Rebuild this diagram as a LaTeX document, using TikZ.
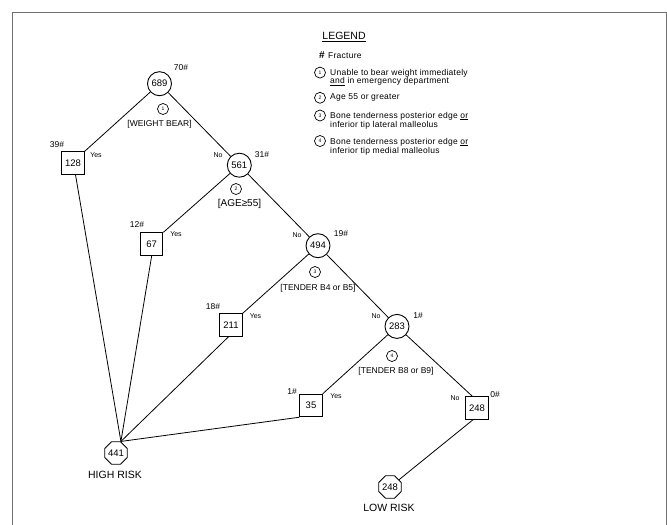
\documentclass[tikz,border=0pt]{standalone}
\usepackage{fontspec}
\setmainfont{Liberation Sans}
\newfontfamily\legfont[LetterSpace=3]{Liberation Sans}
\usetikzlibrary{shapes.geometric,calc}
\begin{document}
\begin{tikzpicture}[x=1pt,y=-1pt,
  every node/.style={inner sep=0pt},
  cnode/.style={circle,draw,line width=0.9pt,minimum size=24pt,font=\fontsize{9.5}{10}\selectfont},
  bnode/.style={rectangle,draw,line width=1pt,minimum size=22.5pt,font=\fontsize{9.5}{10}\selectfont},
  onode/.style={regular polygon,regular polygon sides=8,draw,line width=0.9pt,minimum size=24pt,font=\fontsize{9.5}{10}\selectfont},
  num/.style={font=\fontsize{8.5}{9}\selectfont},
  yn/.style={font=\fontsize{7}{8}\selectfont},
  qnum/.style={circle,draw,line width=0.7pt,minimum size=11pt,font=\fontsize{5}{5}\selectfont},
  crit/.style={font=\fontsize{8.5}{9}\selectfont},
  risk/.style={font=\fontsize{10.5}{11}\selectfont},
  edge/.style={line width=0.8pt},
  leg/.style={font=\legfont\fontsize{8.5}{8}\selectfont, align=left, anchor=west}
]
\useasboundingbox (0,0) rectangle (667,525);
\draw[black!55, line width=1pt] (12,525) -- (12,12) -- (666,12) -- (666,525);

% tree nodes
\node[cnode] (n689) at (159.5,83.7) {689};
\node[bnode] (b128) at (73,163) {128};
\node[cnode] (n561) at (239.3,165.2) {561};
\node[bnode] (b67) at (151.7,244) {67};
\node[cnode] (n494) at (318,245.7) {494};
\node[bnode] (b211) at (231,325) {211};
\node[cnode] (n283) at (397,326.4) {283};
\node[bnode] (b35) at (311,405.5) {35};
\node[bnode] (b248) at (477,408) {248};
\node[onode] (hr) at (116,453) {441};
\node[onode] (lr) at (390,487) {248};

% connectors
\coordinate (hrt) at (hr.67.5);
\coordinate (b248t) at ($(b248.north west)!0.3!(b248.north east)$);
\draw[edge] (n689) -- (b128.north east);
\draw[edge] (n689) -- (n561);
\draw[edge] (n561) -- (b67.north east);
\draw[edge] (n561) -- (n494);
\draw[edge] (n494) -- (b211.north east);
\draw[edge] (n494) -- (n283);
\draw[edge] (n283) -- (b35.north east);
\draw[edge] (n283) -- (b248t);
\draw[edge] ($(b128.south)+(2.5,0)$) -- (hrt);
\draw[edge] (b67.south) -- (hrt);
\draw[edge] ($(b211.south)+(-2.5,0)$) -- (hrt);
\draw[edge] (b35.south west) -- (hrt);
\draw[edge] ($(b248.south)+(-4,0)$) -- (lr);

% labels
\node[num] (l70) at (181,68) {70\#};
\node[num] (l39) at (57,145) {39\#};
\node[yn] (y1) at (96,154.7) {Yes};
\node[yn] (no1) at (218,155) {No};
\node[num] (l31) at (262,155) {31\#};
\node[qnum] (q1) at (163,109) {1};
\node[crit] (c1) at (159.5,124) {[WEIGHT BEAR]};
\node[qnum] (q2) at (236,189) {2};
\node[font=\fontsize{10}{11}\selectfont] (c2) at (239.5,204) {[AGE≥55]};
\node[num] (l12) at (137,225) {12\#};
\node[yn] (y2) at (176,234) {Yes};
\node[yn] (no2) at (297,235) {No};
\node[num] (l19) at (341,234) {19\#};
\node[qnum] (q3) at (315,272) {3};
\node[crit] (c3) at (318,288.6) {[TENDER B4 or B5]};
\node[num] (l18) at (213,307) {18\#};
\node[yn] (y3) at (255.5,315.7) {Yes};
\node[yn] (no3) at (376,316) {No};
\node[num] (l1a) at (418,316) {1\#};
\node[qnum] (q4) at (392,356) {4};
\node[crit] (c4) at (396,371) {[TENDER B8 or B9]};
\node[num] (l1b) at (292,392) {1\#};
\node[yn] (y4) at (336,396) {Yes};
\node[yn] (no4) at (455,398) {No};
\node[num] (l0) at (495,395) {0\#};
\node[risk] (thr) at (115,474.7) {HIGH RISK};
\node[risk] (tlr) at (389,508) {LOW RISK};

% legend
\node[font=\fontsize{10.5}{11}\selectfont] (legT) at (344,37) {\underline{LEGEND}};
\node[font=\fontsize{10}{10}\selectfont\bfseries] (legH) at (322,55) {\#};
\node[leg] (legF) at (328,55.5) {Fracture};
\node[qnum] (lq1) at (320,72.6) {1};
\node[leg] (lt1) at (330,77.5) {Unable to bear weight immediately\\\underline{and} in emergency department};
\node[qnum] (lq2) at (320,97.8) {2};
\node[leg] (lt2) at (330,97.8) {Age 55 or greater};
\node[qnum] (lq3) at (320,115.5) {3};
\node[leg] (lt3) at (330,120.5) {Bone tenderness posterior edge \underline{or}\\inferior tip lateral malleolus};
\node[qnum] (lq4) at (320,141) {4};
\node[leg] (lt4) at (330,146.6) {Bone tenderness posterior edge \underline{or}\\inferior tip medial malleolus};
\end{tikzpicture}
\end{document}
